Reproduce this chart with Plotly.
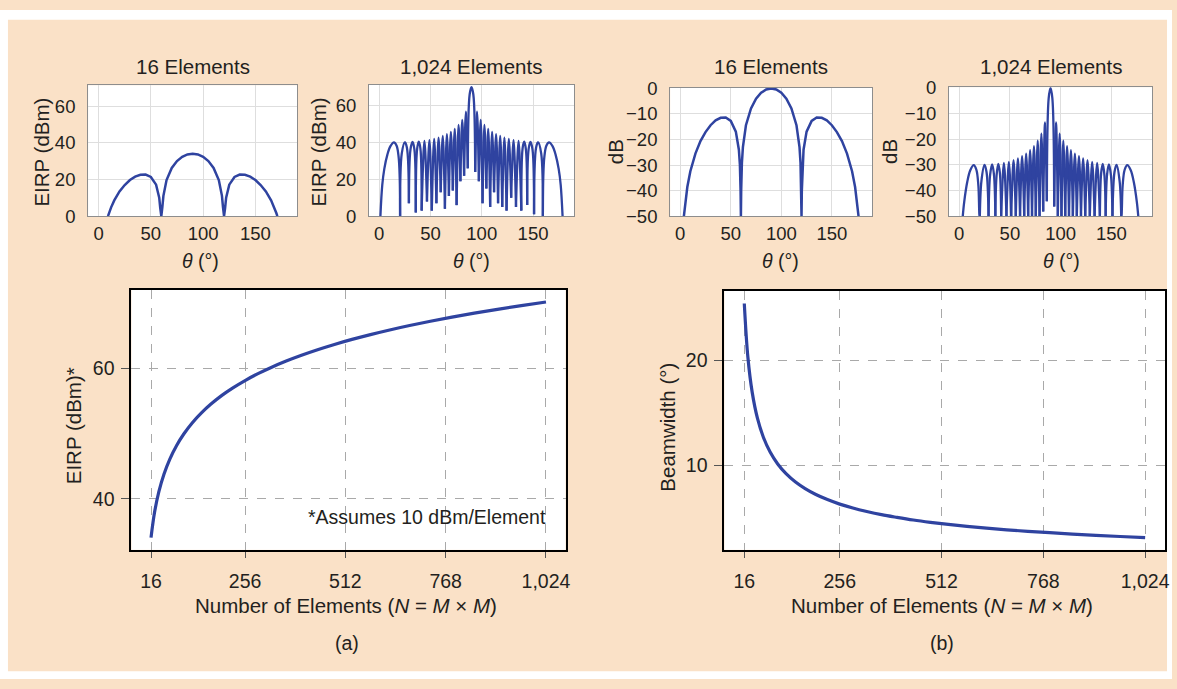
import plotly.graph_objects as go

W, H = 1177, 689
BLUE = "#2f43a0"
INK = "#231f20"
FONT = "Liberation Sans, Arial, Helvetica, sans-serif"
PEACH = "#fae1c7"

# ---------------- 16-element array (M = 4) ----------------
theta_16_eirp = [9, 10, 12, 15, 20, 25, 30, 35, 40, 45, 50, 55, 58, 59, 60, 61, 62, 65, 70, 75,
                 80, 85, 90, 95, 100, 105, 110, 115, 118, 119, 120, 121, 122, 125, 130, 135, 140,
                 145, 150, 155, 160, 165, 168, 170, 171]
eirp_16 = [0, 1.7, 4.8, 8.6, 13.5, 17.0, 19.7, 21.6, 22.6, 22.7, 21.4, 17.2, 10.1, 4.4, 0, 4.9,
           11.1, 19.7, 26.3, 30.1, 32.4, 33.7, 34.1, 33.7, 32.4, 30.1, 26.3, 19.7, 11.1, 4.9, 0,
           4.4, 10.1, 17.2, 21.4, 22.7, 22.6, 21.6, 19.7, 17.0, 13.5, 8.6, 4.8, 1.7, 0]

theta_16_db = [3.6, 4, 5, 7, 10, 12, 15, 20, 25, 30, 35, 40, 45, 50, 55, 58, 59, 59.7, 60, 60.3,
               61, 62, 65, 70, 75, 80, 85, 90, 95, 100, 105, 110, 115, 118, 119, 119.7, 120, 120.3,
               121, 122, 125, 130, 135, 140, 145, 150, 155, 160, 165, 168, 170, 173, 175, 176, 176.4]
db_16 = [-50, -48.3, -44.5, -38.6, -32.4, -29.3, -25.5, -20.6, -17.1, -14.4, -12.5, -11.5, -11.4,
         -12.7, -16.9, -24.0, -29.7, -40.0, -50, -39.9, -29.2, -23.0, -14.4, -7.8, -4.0, -1.7, -0.4,
         0, -0.4, -1.7, -4.0, -7.8, -14.4, -23.0, -29.2, -39.9, -50, -40.0, -29.7, -24.0, -16.9,
         -12.7, -11.4, -11.5, -12.5, -14.4, -17.1, -20.6, -25.5, -29.3, -32.4, -38.6, -44.5, -48.3, -50]

# ---------------- 1,024-element array (M = 32) ----------------
# lobe boundaries (interior nulls) and lobe peaks, degrees
nulls_1024 = [20.4, 29.0, 35.7, 41.4, 46.6, 51.3, 55.8, 60.0, 64.1, 68.0, 71.8, 75.5, 79.2, 82.8,
              86.4, 93.6, 97.2, 100.8, 104.5, 108.2, 112.0, 115.9, 120.0, 124.2, 128.7, 133.4,
              138.6, 144.3, 151.0, 159.6]
peaks_1024 = [14.4, 25.0, 32.5, 38.6, 44.1, 49.0, 53.6, 57.9, 62.0, 66.0, 69.9, 73.7, 77.4, 81.0,
              84.6, 90.0, 95.4, 99.0, 102.6, 106.3, 110.1, 114.0, 118.0, 122.1, 126.4, 131.0,
              135.9, 141.4, 147.5, 155.0, 165.6]

# EIRP panel (dBm)
edges_1024_eirp = [1.2, 178.8]
null_eirp_1024 = [0, 0, 7, 2, 3, 8, 3, 7, 13, 4, 11, 14, 6, 19, 22, 26, 24, 19, 7, 15, 5, 13, 7,
                  5, 3, 10, 5, 3, 6, 1, 0, 0]
peak_eirp_1024 = [40.1, 40.2, 40.4, 40.6, 41.0, 41.4, 42.0, 42.7, 43.6, 44.6, 45.9, 47.5, 49.6,
                  52.4, 56.8, 70.2, 56.8, 52.4, 49.6, 47.5, 45.9, 44.6, 43.6, 42.7, 42.0, 41.4,
                  41.0, 40.6, 40.4, 40.2, 40.1]
shoulder_theta_eirp = [3, 5, 8, 11, 17, 19, 20, 22, 27, 30.5, 34.3, 36.9, 40.2, 88.2, 91.8,
                       139.8, 143.1, 145.7, 149.5, 153, 158, 160, 161, 163, 169, 172, 175, 177]
shoulder_eirp = [16.9, 25.7, 33.5, 38.1, 38.3, 32.0, 21.0, 34.0, 37.4, 36.2, 36.5, 36.1, 36.8,
                 66.2, 66.2, 36.8, 36.1, 36.5, 36.2, 37.4, 34.0, 21.0, 32.0, 38.3, 38.1, 33.5,
                 25.7, 16.9]

# normalised pattern panel (dB)
edges_1024_db = [3.6, 176.4]
null_db_1024 = [-50, -50, -50, -50, -50, -50, -50, -50, -50, -50, -50, -50, -50, -50, -48.2,
                -44.2, -46.2, -50, -50, -50, -50, -50, -50, -50, -50, -50, -50, -50, -50, -50,
                -50, -50]
peak_db_1024 = [-30.1, -30.0, -29.8, -29.6, -29.2, -28.8, -28.2, -27.5, -26.6, -25.6, -24.3,
                -22.7, -20.6, -17.8, -13.4, 0, -13.4, -17.8, -20.6, -22.7, -24.3, -25.6, -26.6,
                -27.5, -28.2, -28.8, -29.2, -29.6, -29.8, -30.0, -30.1]
shoulder_theta_db = [5, 8, 11, 17, 19, 20, 22, 27, 30.5, 34.3, 36.9, 40.2, 88.2, 91.8,
                     139.8, 143.1, 145.7, 149.5, 153, 158, 160, 161, 163, 169, 172, 175]
shoulder_db = [-44.5, -36.7, -32.1, -31.9, -38.2, -49.2, -36.2, -32.8, -34.0, -33.7, -34.1,
               -33.4, -4.0, -4.0, -33.4, -34.1, -33.7, -34.0, -32.8, -36.2, -49.2, -38.2, -31.9,
               -32.1, -36.7, -44.5]

# ---------------- array size sweep ----------------
n_elements = [16, 25, 36, 49, 64, 81, 100, 121, 144, 169, 196, 225, 256, 289, 324, 361, 400,
              441, 484, 529, 576, 625, 676, 729, 784, 841, 900, 961, 1024]
eirp_vs_n = [34.08, 37.96, 41.13, 43.80, 46.12, 48.17, 50.00, 51.66, 53.17, 54.56, 55.85, 57.04,
             58.16, 59.22, 60.21, 61.15, 62.04, 62.89, 63.70, 64.47, 65.21, 65.92, 66.60, 67.25,
             67.89, 68.50, 69.08, 69.65, 70.21]
beamwidth_vs_n = [25.38, 20.30, 16.92, 14.50, 12.69, 11.28, 10.15, 9.23, 8.46, 7.81, 7.25, 6.77,
                  6.34, 5.97, 5.64, 5.34, 5.08, 4.83, 4.61, 4.41, 4.23, 4.06, 3.90, 3.76, 3.63,
                  3.50, 3.38, 3.27, 3.17]
n_ticks = [16, 256, 512, 768, 1024]
n_tick_text = ["16", "256", "512", "768", "1,024"]


def lobe_path(edges, nulls, null_lv, peaks, peak_lv, sh_t, sh_v):
    """Join the listed points of each lobe into its own path segment."""
    bounds = [edges[0]] + nulls + [edges[1]]
    xs, ys = [], []
    for i, (pt, pv) in enumerate(zip(peaks, peak_lv)):
        lo, hi = bounds[i], bounds[i + 1]
        pts = [(lo, null_lv[i]), (pt, pv), (hi, null_lv[i + 1])]
        pts += [(t, v) for t, v in zip(sh_t, sh_v) if lo < t < hi]
        pts.sort()
        xs += [p[0] for p in pts] + [None]
        ys += [p[1] for p in pts] + [None]
    return xs, ys


x1024_eirp, y1024_eirp = lobe_path(edges_1024_eirp, nulls_1024, null_eirp_1024, peaks_1024,
                                   peak_eirp_1024, shoulder_theta_eirp, shoulder_eirp)
x1024_db, y1024_db = lobe_path(edges_1024_db, nulls_1024, null_db_1024, peaks_1024,
                               peak_db_1024, shoulder_theta_db, shoulder_db)


def dom_x(a, b):
    return [a / W, b / W]


def dom_y(top, bottom):
    return [1 - bottom / H, 1 - top / H]


def fx(p):
    return p / W


def fy(p):
    return 1 - p / H


fig = go.Figure()
top_line = dict(color=BLUE, width=2.5)
fig.add_trace(go.Scatter(x=theta_16_eirp, y=eirp_16, mode="lines", line=top_line,
                         xaxis="x", yaxis="y"))
fig.add_trace(go.Scatter(x=x1024_eirp, y=y1024_eirp, mode="lines",
                         line=dict(color=BLUE, width=2.3, shape="spline"), connectgaps=False,
                         xaxis="x2", yaxis="y2"))
fig.add_trace(go.Scatter(x=theta_16_db, y=db_16, mode="lines", line=top_line,
                         xaxis="x3", yaxis="y3"))
fig.add_trace(go.Scatter(x=x1024_db, y=y1024_db, mode="lines",
                         line=dict(color=BLUE, width=2.3, shape="spline"), connectgaps=False,
                         xaxis="x4", yaxis="y4"))
bottom_line = dict(color=BLUE, width=3.2, shape="spline")
fig.add_trace(go.Scatter(x=n_elements, y=eirp_vs_n, mode="lines", line=bottom_line,
                         xaxis="x5", yaxis="y5"))
fig.add_trace(go.Scatter(x=n_elements, y=beamwidth_vs_n, mode="lines", line=bottom_line,
                         xaxis="x6", yaxis="y6"))

tick_top = dict(size=18.5, color=INK, family=FONT)
tick_bot = dict(size=19.5, color=INK, family=FONT)

top_x = dict(range=[-10, 190], tickvals=[0, 50, 100, 150], showgrid=True, gridcolor="#dedede",
             gridwidth=1, zeroline=False, showline=True, linecolor="#8d8d8d", linewidth=1,
             mirror=True, ticks="", tickfont=tick_top, ticklabelstandoff=1, fixedrange=True)
top_y = dict(showgrid=True, gridcolor="#dedede", gridwidth=1, zeroline=False, showline=True,
             linecolor="#8d8d8d", linewidth=1, mirror=True, ticks="", tickfont=tick_top,
             ticklabelstandoff=8, fixedrange=True)
eirp_y = dict(top_y, range=[0, 71.5], tickvals=[0, 20, 40, 60])
db_y = dict(top_y, range=[-50, 0.3], tickvals=[0, -10, -20, -30, -40, -50])

bot_x = dict(range=[-34, 1074], tickvals=n_ticks, ticktext=n_tick_text, showgrid=True,
             gridcolor="#a9a9a9", griddash="dash", gridwidth=1, zeroline=False, showline=True,
             linecolor="black", linewidth=2, mirror=True, ticks="outside", ticklen=6,
             tickcolor="#555555", tickwidth=1, tickfont=tick_bot, ticklabelstandoff=7,
             fixedrange=True)
bot_y = dict(showgrid=True, gridcolor="#a9a9a9", griddash="dash", gridwidth=1, zeroline=False,
             showline=True, linecolor="black", linewidth=2, mirror=True, ticks="outside",
             ticklen=8, tickcolor="#555555", tickwidth=1, tickfont=tick_bot,
             ticklabelstandoff=3, fixedrange=True)

fig.update_layout(
    width=W, height=H, margin=dict(l=0, r=0, t=0, b=0),
    paper_bgcolor=PEACH, plot_bgcolor="white", showlegend=False,
    font=dict(family=FONT, color=INK),
    xaxis=dict(top_x, domain=dom_x(88.5, 298.5), anchor="y"),
    yaxis=dict(eirp_y, domain=dom_y(77.5, 212.3), anchor="x"),
    xaxis2=dict(top_x, domain=dom_x(370.5, 576.5), anchor="y2"),
    yaxis2=dict(eirp_y, domain=dom_y(77, 212.3), anchor="x2"),
    xaxis3=dict(top_x, domain=dom_x(673, 876), anchor="y3"),
    yaxis3=dict(db_y, domain=dom_y(80, 212.3), anchor="x3"),
    xaxis4=dict(top_x, domain=dom_x(953, 1157), anchor="y4"),
    yaxis4=dict(db_y, domain=dom_y(79.5, 212.3), anchor="x4"),
    xaxis5=dict(bot_x, domain=dom_x(132, 568), anchor="y5"),
    yaxis5=dict(bot_y, range=[32.2, 72.1], tickvals=[40, 60], domain=dom_y(288, 556),
                anchor="x5"),
    xaxis6=dict(bot_x, domain=dom_x(727.5, 1170), anchor="y6"),
    yaxis6=dict(bot_y, range=[2.0, 26.6], tickvals=[10, 20], domain=dom_y(289, 556),
                anchor="x6"),
)

# white border round the tinted panel
border = [(0, 0, W, 10), (0, 0, 8, H), (1172, 0, W, H), (0, 681, W, H)]
for x0, y0, x1, y1 in border:
    fig.add_shape(type="rect", xref="paper", yref="paper", x0=fx(x0), x1=fx(x1),
                  y0=fy(y1), y1=fy(y0), fillcolor="white", line=dict(width=0), layer="below")


def label(text, x, y, size=20.5, angle=0, xanchor="center"):
    fig.add_annotation(text=text, x=fx(x), y=fy(y), xref="paper", yref="paper",
                       showarrow=False, textangle=angle, xanchor=xanchor, yanchor="middle",
                       font=dict(size=size, color=INK, family=FONT))


# panel titles
label("16 Elements", 193.5, 58)
label("1,024 Elements", 473.5, 58)
label("16 Elements", 774.5, 58)
label("1,024 Elements", 1055, 58)

# theta axis titles
for xc in (201, 474, 784, 1066):
    label("<i>θ</i> (°)", xc, 258, size=19.5)

# vertical axis titles of the pattern panels
label("EIRP (dBm)", 42, 146, angle=-90)
label("EIRP (dBm)", 320, 146, angle=-90)
label("dB", 618, 146, angle=-90)
label("dB", 894, 146, angle=-90)

# sweep panels
label("EIRP (dBm)*", 74, 428, angle=-90)
label("Beamwidth (°)", 670, 430, angle=-90)
label("Number of Elements (<i>N</i> = <i>M</i> × <i>M</i>)", 347, 613)
label("Number of Elements (<i>N</i> = <i>M</i> × <i>M</i>)", 946, 613)
label("(a)", 348, 652, size=19.5)
label("(b)", 946, 652, size=19.5)
label("*Assumes 10 dBm/Element", 550, 522, size=19.5, xanchor="right")

fig.write_html("out.html")
